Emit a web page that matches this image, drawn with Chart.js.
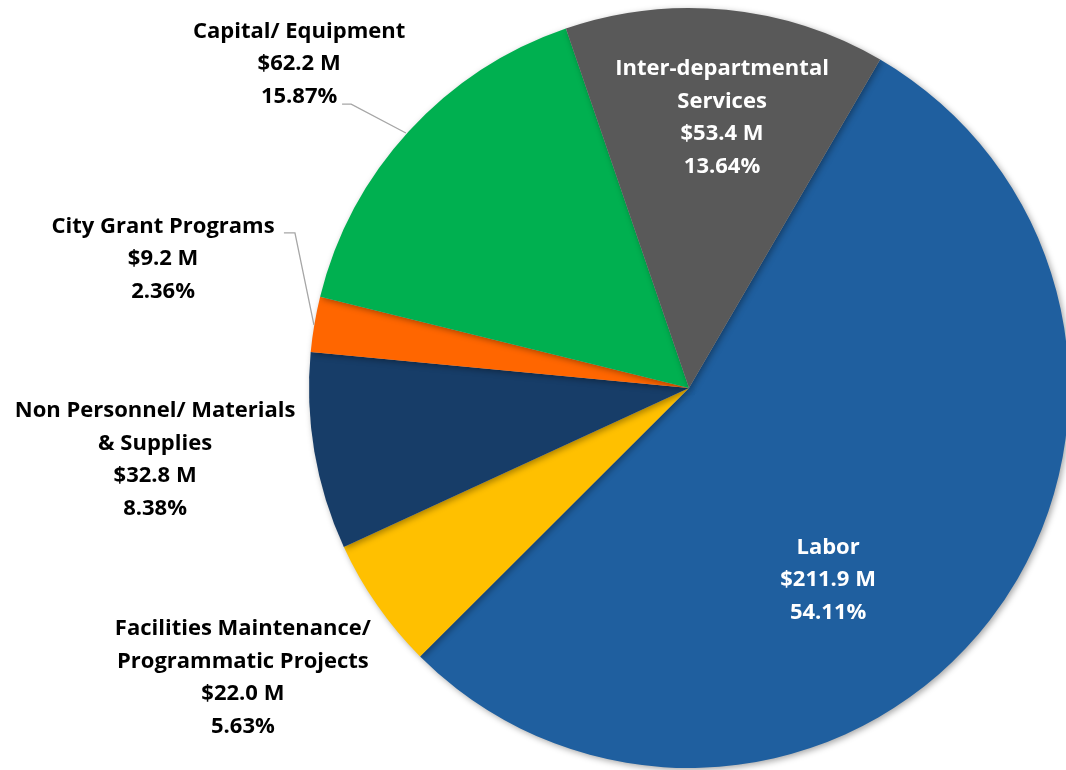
<!DOCTYPE html>
<html>
<head>
<meta charset="utf-8">
<script src="https://cdn.jsdelivr.net/npm/chart.js@4"></script>
<style>
  html, body { margin: 0; padding: 0; background: #fff; overflow: hidden; }
  #wrap { width: 1080px; height: 776px; }
</style>
</head>
<body>
<div id="wrap"><canvas id="budget-chart"></canvas></div>
<script>
// slice data, clockwise from the top-right
const categories = [
    ['Labor'],
    ['Facilities Maintenance/', 'Programmatic Projects'],
    ['Non Personnel/ Materials', '& Supplies'],
    ['City Grant Programs'],
    ['Capital/ Equipment'],
    ['Inter-departmental', 'Services']
];
const amounts = [211.9, 22.0, 32.8, 9.2, 62.2, 53.4];          // $ M
const percents = ['54.11%', '5.63%', '8.38%', '2.36%', '15.87%', '13.64%'];
const colors = ['#1F5F9F', '#FFC000', '#173D68', '#FF6600', '#00B050', '#595959'];

// label placement relative to pie centre, in units of radius
const labelPos = [
    { x: 0.366, y: 0.505, color: '#fff' },
    { x: -1.174, y: 0.762, color: '#000' },
    { x: -1.405, y: 0.189, color: '#000' },
    { x: -1.384, y: -0.339, color: '#000' },
    { x: -1.026, y: -0.853, color: '#000' },
    { x: 0.087, y: -0.711, color: '#fff' }
];
// leader lines (label end -> elbow -> slice edge), in radius units
const leaders = {
    3: [[-1.066, -0.408], [-1.037, -0.408], [-0.987, -0.166]],
    4: [[-0.913, -0.747], [-0.889, -0.747], [-0.745, -0.671]]
};

const labelPlugin = {
    id: 'sliceLabels',
    afterDraw(chart) {
        const ctx = chart.ctx;
        const arc = chart.getDatasetMeta(0).data[0];
        const cx = arc.x, cy = arc.y, r = arc.outerRadius;
        ctx.save();
        // leader lines
        ctx.strokeStyle = '#A6A6A6';
        ctx.lineWidth = 1.3;
        Object.values(leaders).forEach(pts => {
            ctx.beginPath();
            pts.forEach((p, i) => {
                const px = cx + p[0] * r, py = cy + p[1] * r;
                if (i === 0) ctx.moveTo(px, py); else ctx.lineTo(px, py);
            });
            ctx.stroke();
        });
        // text
        ctx.font = 'bold 22px "Open Sans", Lato, sans-serif';
        ctx.textAlign = 'center';
        ctx.textBaseline = 'middle';
        const lh = 32.5;
        categories.forEach((cat, i) => {
            const lines = [...cat, '$' + amounts[i].toFixed(1) + ' M', percents[i]];
            const px = cx + labelPos[i].x * r;
            const py = cy + labelPos[i].y * r;
            ctx.fillStyle = labelPos[i].color;
            lines.forEach((t, j) => {
                ctx.fillText(t, px, py + (j - (lines.length - 1) / 2) * lh);
            });
        });
        ctx.restore();
    }
};

const shadowPlugin = {
    id: 'pieShadow',
    beforeDatasetsDraw(chart) {
        const ctx = chart.ctx;
        ctx.save();
        ctx.shadowColor = 'rgba(0,0,0,0.35)';
        ctx.shadowBlur = 6;
        ctx.shadowOffsetX = 2;
        ctx.shadowOffsetY = 2;
    },
    afterDatasetsDraw(chart) {
        chart.ctx.restore();
    }
};

new Chart(document.getElementById('budget-chart').getContext('2d'), {
    type: 'pie',
    data: {
        labels: categories.map(c => c.join(' ')),
        datasets: [{
            data: amounts,
            backgroundColor: colors,
            borderWidth: 0
        }]
    },
    options: {
        responsive: true,
        maintainAspectRatio: false,
        animation: false,
        rotation: 30.2,
        layout: { padding: { left: 309, right: 11, top: 8, bottom: 8 } },
        plugins: {
            legend: { display: false },
            tooltip: { enabled: false }
        }
    },
    plugins: [shadowPlugin, labelPlugin]
});
</script>
</body>
</html>
